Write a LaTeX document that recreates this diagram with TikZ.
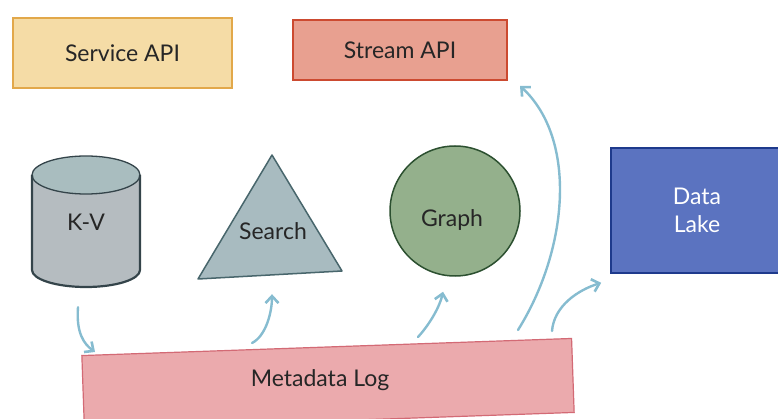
\documentclass[tikz,border=0pt]{standalone}
\usepackage{fontspec}
\setmainfont{Lato}
\usetikzlibrary{arrows.meta,calc}

\definecolor{apiFill}{HTML}{F5DCA6}
\definecolor{apiLine}{HTML}{E2A84A}
\definecolor{strFill}{HTML}{E8A090}
\definecolor{strLine}{HTML}{CC4A30}
\definecolor{kvFill}{HTML}{B5BCC0}
\definecolor{kvTop}{HTML}{A9BDBF}
\definecolor{kvLine}{HTML}{34444A}
\definecolor{srFill}{HTML}{A8BBC0}
\definecolor{srLine}{HTML}{48666C}
\definecolor{grFill}{HTML}{94B08C}
\definecolor{grLine}{HTML}{2C5030}
\definecolor{dlFill}{HTML}{5B73C0}
\definecolor{dlLine}{HTML}{1E3A8C}
\definecolor{logFill}{HTML}{EBAAAD}
\definecolor{logLine}{HTML}{D36A75}
\definecolor{flowBlue}{HTML}{86BCD0}

\tikzset{
  lbl/.style={font=\fontsize{23}{28}\selectfont, text=black!85},
  flow/.style={draw=flowBlue, line width=2.4pt, line cap=round,
    -{Straight Barb[length=7pt,width=13pt,line width=2.6pt]}},
}

\begin{document}
\begin{tikzpicture}[x=1pt,y=-1pt]
\useasboundingbox (0,0) rectangle (778,419);

% top API boxes
\node[lbl, draw=apiLine, fill=apiFill, line width=1.4pt,
      minimum width=219pt, minimum height=70pt] (svc) at (122.5,53) {Service API};
\node[lbl, draw=strLine, fill=strFill, line width=1.6pt,
      minimum width=214pt, minimum height=60pt] (stream) at (400,50) {Stream API};

% key-value store (cylinder)
\fill[kvFill] (32,175) -- (32,270) arc[start angle=180,end angle=360,x radius=54,y radius=-17]
      -- (140,175) arc[start angle=0,end angle=180,x radius=54,y radius=19] -- cycle;
\fill[kvTop] (86,175) ellipse[x radius=54,y radius=19];
\draw[kvLine, line width=1.3pt] (86,175) ellipse[x radius=54,y radius=19];
\draw[kvLine, line width=2.2pt] (32,175) -- (32,270)
      arc[start angle=180,end angle=360,x radius=54,y radius=-17] -- (140,175);
\node[lbl, minimum width=108pt, minimum height=134pt] (kv) at (86,222) {K-V};

% search index (triangle)
\draw[srLine, fill=srFill, line width=1.5pt, line join=round]
      (272,155) -- (342,271) -- (198,279) -- cycle;
\node[minimum width=145pt, minimum height=124pt] (search) at (270,217) {};
\node[lbl] at (273,231) {Search};

% graph store (circle)
\node[circle, draw=grLine, fill=grFill, line width=1.5pt,
      minimum size=130pt, inner sep=0pt] (graph) at (455,211) {};
\node[lbl] at (452,220) {Graph};

% data lake
\node[lbl, draw=dlLine, fill=dlFill, line width=1.6pt, text=white,
      minimum width=172pt, minimum height=125pt, align=center] (lake) at (697,210.5)
      {Data\\[0pt]Lake};

% metadata log, slightly tilted
\node[draw=logLine, fill=logFill, line width=1.2pt, rotate=2,
      minimum width=490pt, minimum height=74pt] (log) at (328,384) {};
\node[lbl] at (320,380) {Metadata Log};

% feed arrows
\coordinate (kvOut)  at ($(kv.south)+(-8,18)$);
\coordinate (inLog)  at (95,352);
\coordinate (toSr)   at (252,343);
\coordinate (toGr)   at (418,337);
\coordinate (toStr)  at (518,330);
\coordinate (toDl)   at (552,331);

\draw[flow] (kvOut) .. controls (76,333) and (84,344) .. (inLog);
\draw[flow] (toSr) .. controls (266,336) and (272,312) .. ($(search.south)+(2,15)$);
\draw[flow] (toGr) .. controls (430,324) and (440,306) .. ($(graph.south)+(-12,15)$);
\draw[flow] (toStr) .. controls (568,250) and (578,140) .. ($(stream.south)+(120,5)$);
\draw[flow] (toDl) .. controls (554,306) and (578,290) .. ($(lake.south west)+(-9,9)$);
\end{tikzpicture}
\end{document}
